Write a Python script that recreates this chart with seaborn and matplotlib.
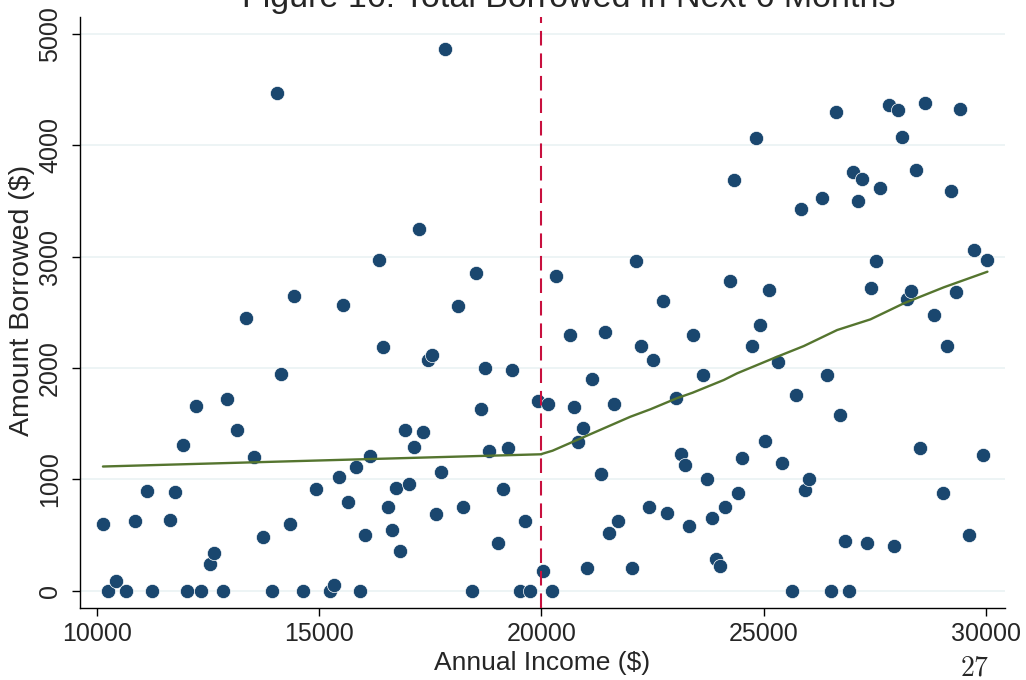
import matplotlib
matplotlib.use("Agg")
import matplotlib.pyplot as plt
import seaborn as sns
import pandas as pd

# ---- data ----
income = [10140, 10250, 10440, 10650, 10850, 11140, 11250, 11640, 11750, 11950,
          12040, 12240, 12350, 12540, 12640, 12840, 12940, 13150, 13350, 13540,
          13740, 13940, 14050, 14140, 14340, 14440, 14640, 14940, 15240, 15330,
          15440, 15540, 15640, 15840, 15930, 16040, 16140, 16340, 16430, 16540,
          16640, 16730, 16830, 16940, 17030, 17140, 17240, 17330, 17440, 17540,
          17630, 17740, 17840, 18130, 18230, 18430, 18530, 18640, 18730, 18830,
          19030, 19130, 19240, 19330, 19520, 19630, 19750, 19930,
          20030, 20140, 20230, 20330, 20640, 20730, 20830, 20930, 21030, 21130,
          21330, 21440, 21530, 21630, 21730, 22030, 22130, 22230, 22430, 22520,
          22730, 22830, 23030, 23130, 23230, 23330, 23420, 23630, 23730, 23830,
          23930, 24020, 24130, 24230, 24330, 24430, 24520, 24730, 24830, 24920,
          25030, 25120, 25330, 25420, 25630, 25720, 25830, 25930, 26020, 26320,
          26420, 26520, 26620, 26720, 26820, 26920, 27010, 27120, 27220, 27320,
          27420, 27520, 27620, 27820, 27920, 28020, 28120, 28220, 28320, 28420,
          28520, 28620, 28820, 29020, 29120, 29220, 29320, 29420, 29620, 29720,
          29920, 30020]
borrowed = [600, 0, 90, 0, 630, 900, 0, 640, 890, 1310,
            0, 1660, 0, 240, 340, 0, 1720, 1440, 2450, 1200,
            480, 0, 4470, 1950, 600, 2650, 0, 915, 0, 55,
            1025, 2565, 800, 1110, 0, 505, 1210, 2975, 2190, 755,
            550, 925, 355, 1440, 960, 1290, 3250, 1425, 2075, 2115,
            690, 1065, 4870, 2555, 755, 0, 2850, 1630, 2000, 1255,
            430, 915, 1280, 1980, 0, 630, 0, 1705,
            175, 1675, 0, 2825, 2300, 1650, 1340, 1465, 205, 1900,
            1045, 2325, 520, 1680, 630, 205, 2965, 2195, 755, 2075,
            2600, 695, 1735, 1225, 1130, 580, 2300, 1940, 1005, 655,
            285, 220, 755, 2780, 3690, 880, 1195, 2200, 4070, 2385,
            1345, 2700, 2055, 1150, 0, 1755, 3425, 905, 1005, 3530,
            1940, 0, 4305, 1580, 450, 0, 3765, 3500, 3700, 430,
            2720, 2960, 3615, 4365, 405, 4320, 4080, 2625, 2690, 3780,
            1280, 4385, 2480, 880, 2195, 3590, 2680, 4330, 505, 3065,
            1215, 2970]

fit_left_x = [10140, 20000]
fit_left_y = [1116, 1226]
fit_right_x = [20000, 20250, 20800, 22000, 22450, 23050, 23400, 24100, 24400,
               25300, 25900, 26650, 27400, 28150, 29050, 30030]
fit_right_y = [1228, 1258, 1354, 1563, 1630, 1730, 1779, 1893, 1953,
               2102, 2198, 2342, 2438, 2582, 2726, 2866]

cutoff = 20000
x_ticks = [10000, 15000, 20000, 25000, 30000]
y_ticks = [0, 1000, 2000, 3000, 4000, 5000]

title = "Figure 16: Total Borrowed in Next 6 Months"
x_label = "Annual Income ($)"
y_label = "Amount Borrowed ($)"
page_number = "27"

# ---- style ----
sns.set_style("white")
plt.rcParams["font.family"] = ["Liberation Sans", "DejaVu Sans"]
plt.rcParams["mathtext.fontset"] = "cm"

fig = plt.figure(figsize=(10.26, 6.8), dpi=100)
ax = fig.add_axes([80 / 1026, 1 - 608 / 680, (1005 - 80) / 1026, (608 - 17) / 680])

df = pd.DataFrame({"income": income, "borrowed": borrowed})
left = pd.DataFrame({"x": fit_left_x, "y": fit_left_y})
right = pd.DataFrame({"x": fit_right_x, "y": fit_right_y})

for yv in y_ticks:
    ax.axhline(yv, color="#eaf2f3", lw=1.2, zorder=0)

sns.scatterplot(data=df, x="income", y="borrowed", ax=ax, color="#1a476f",
                s=105, edgecolor="white", linewidth=0.5, zorder=3)
sns.lineplot(data=left, x="x", y="y", ax=ax, color="#55752f", lw=1.7,
             zorder=4, estimator=None, sort=False)
sns.lineplot(data=right, x="x", y="y", ax=ax, color="#55752f", lw=1.7,
             zorder=4, estimator=None, sort=False)
ax.axvline(cutoff, color="#c8103e", lw=1.5, dashes=(7, 3.8), zorder=5)

ax.set_xlim(9624, 30425)
ax.set_ylim(-155, 5154)
ax.set_xticks(x_ticks)
ax.set_yticks(y_ticks)
ax.set_xticklabels([str(v) for v in x_ticks], fontsize=18)
ax.set_yticklabels([str(v) for v in y_ticks], fontsize=18, rotation=90, va="center")
ax.tick_params(axis="x", which="major", direction="out", length=6, width=1,
               color="black", pad=4, bottom=True)
ax.tick_params(axis="y", which="major", direction="out", length=6, width=1,
               color="black", pad=7, left=True)

ax.set_xlabel(x_label, fontsize=19)
ax.set_ylabel(y_label, fontsize=20.5)
ax.xaxis.set_label_coords(0.5, -0.073)
ax.yaxis.set_label_coords(-0.049, 0.52)

for side in ["top", "right"]:
    ax.spines[side].set_visible(False)
for side in ["left", "bottom"]:
    ax.spines[side].set_color("black")
    ax.spines[side].set_linewidth(1.0)

fig.text(569 / 1026, 1 - 7.5 / 680, title, ha="center", va="baseline", fontsize=24.5)
fig.text(975 / 1026, 1 - 669 / 680, "$" + page_number + "$", ha="center", va="center",
         fontsize=20)

fig.savefig("out.png", dpi=100)
